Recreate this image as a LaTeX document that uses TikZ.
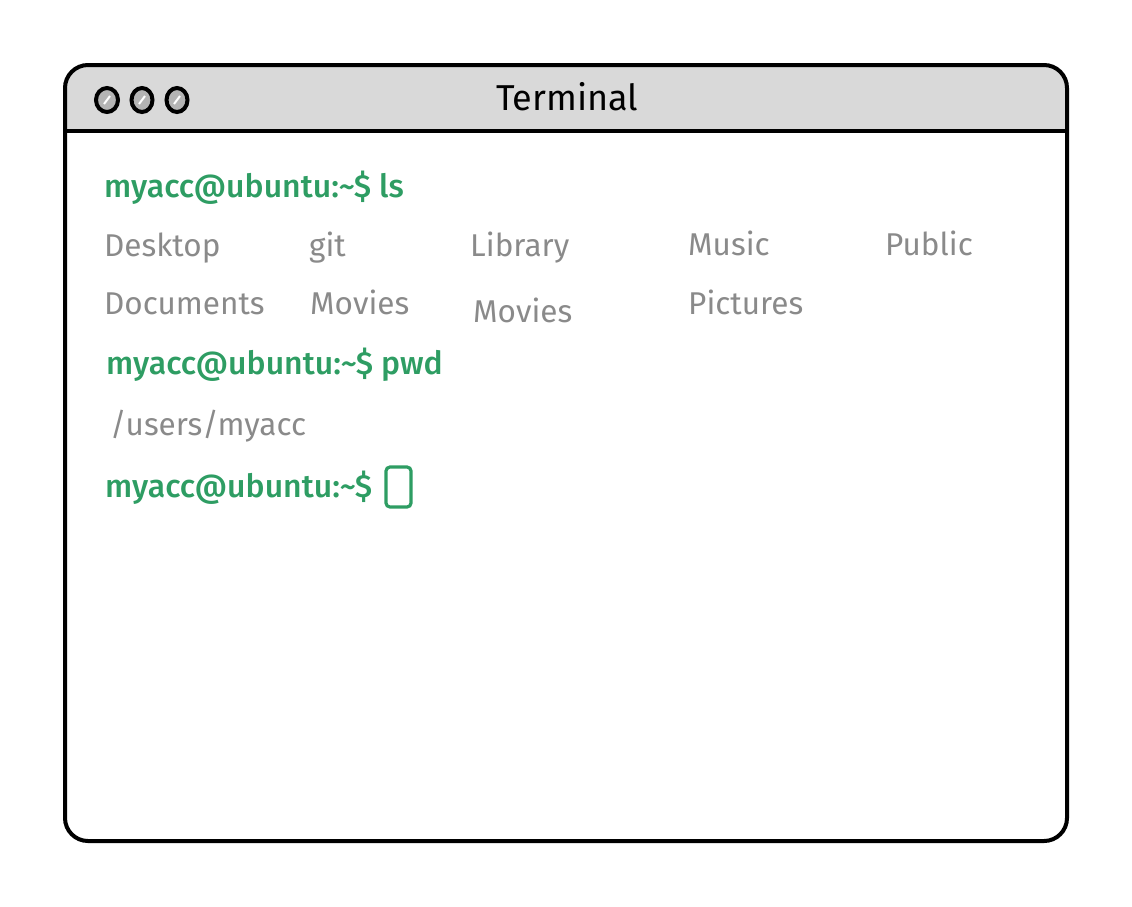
\documentclass[tikz,border=0pt]{standalone}
\usepackage{fontspec}
\usetikzlibrary{shapes.geometric}
\setmainfont{Fira Sans}[BoldFont={* Medium}]
\definecolor{termgreen}{HTML}{2E9D63}
\definecolor{termgrey}{HTML}{8A8A8A}
\definecolor{barfill}{HTML}{D9D9D9}
\definecolor{dotfill}{HTML}{B4B4B4}
\begin{document}
\begin{tikzpicture}[x=1pt,y=-1pt,
  prompt/.style={anchor=base west,inner sep=0pt,text=termgreen,font=\fontsize{32}{36}\selectfont\bfseries},
  entry/.style={anchor=base west,inner sep=0pt,text=termgrey,font=\fontsize{31.5}{36}\selectfont},
  titletext/.style={anchor=base west,inner sep=0pt,text=black,font=\fontsize{36}{40}\selectfont},
  frame/.style={line width=4pt,draw=black},
  winbtn/.style={ellipse,minimum width=21pt,minimum height=24pt,inner sep=0pt,draw=black,line width=4pt,fill=dotfill},
  cursorbox/.style={draw=termgreen,line width=3.2pt,rounded corners=4pt,minimum width=25pt,minimum height=40pt,inner sep=0pt}
]
\useasboundingbox (0,0) rectangle (1132,906);
\fill[white] (0,0) rectangle (1132,906);
% title bar
\begin{scope}
  \clip[rounded corners=23pt] (65,65) rectangle (1067,841);
  \fill[barfill] (65,65) rectangle (1067,131);
\end{scope}
% window frame
\draw[frame,rounded corners=23pt] (65,65) rectangle (1067,841);
\draw[frame] (65,131) -- (1067,131);
% buttons
\node[winbtn,minimum width=22pt] (b1) at (107,100) {};
\node[winbtn] (b2) at (142,100) {};
\node[winbtn] (b3) at (177,100) {};
\foreach \n in {b1,b2,b3}{
  \draw[white,line width=2pt] ([xshift=-3pt,yshift=-4pt]\n.center) -- ([xshift=3pt,yshift=4pt]\n.center);
}
% title
\node[titletext] (title) at (496,110) {Terminal};
% prompt 1
\node[prompt] (p1) at (104,197) {myacc@ubuntu:\char`~\$ ls};
% ls output
\node[entry] (desktop) at (104,256) {Desktop};
\node[entry] (git) at (309,256) {git};
\node[entry] (library) at (470,256) {Library};
\node[entry] (music) at (688,255) {Music};
\node[entry] (public) at (885,255) {Public};
\node[entry] (documents) at (104,314) {Documents};
\node[entry] (movies1) at (310,314) {Movies};
\node[entry] (movies2) at (473,322) {Movies};
\node[entry] (pictures) at (688,314) {Pictures};
% prompt 2
\node[prompt] (p2) at (106,374) {myacc@ubuntu:\char`~\$ pwd};
\node[entry] (pwdout) at (110,435) {/users/myacc};
% prompt 3
\node[prompt] (p3) at (105,497) {myacc@ubuntu:\char`~\$};
\node[cursorbox] (cursor) at (398.5,487) {};
\end{tikzpicture}
\end{document}
